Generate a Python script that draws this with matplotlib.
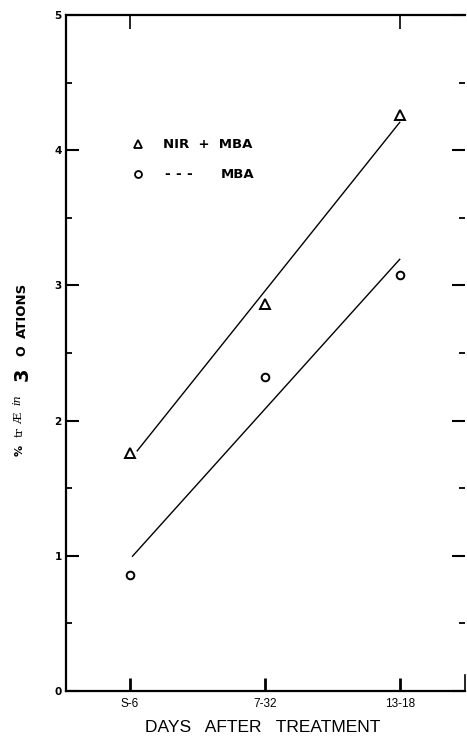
import numpy as np
import matplotlib
matplotlib.use("Agg")
import matplotlib.pyplot as plt
from matplotlib.ticker import MultipleLocator, FixedLocator

# Data
categories = ["S-6", "7-32", "13-18"]
nir_mba = [1.76, 2.86, 4.26]   # NIR + MBA (triangles)
mba = [0.86, 2.32, 3.08]       # MBA alone (circles)
y_ticks = [0, 1, 2, 3, 4, 5]
y_tick_labels = ["0", "1", "2", "3", "4", "5"]

W, H = 467, 737
fig = plt.figure(figsize=(W / 100, H / 100), dpi=100)
fig.patch.set_facecolor("white")


def fx(px):
    return px / W


def fy(py):
    return 1 - py / H


ax = fig.add_axes([fx(66), fy(691), (465 - 66) / W, (691 - 15) / H])
x = np.arange(len(categories))

ax.set_xlim(-0.474, 2.48)
ax.set_ylim(0, 5)

# Least-squares lines through each series
for series, x0 in ((nir_mba, 0.05), (mba, 0.015)):
    slope, icpt = np.polyfit(x, series, 1)
    xs = np.array([x0, 2.0])
    ax.plot(xs, icpt + slope * xs, color="black", lw=1.0, solid_capstyle="butt")

ax.plot(x, nir_mba, linestyle="none", marker="^", ms=6.5, mfc="white",
        mec="black", mew=1.4, zorder=3)
ax.plot(x, mba, linestyle="none", marker="o", ms=5.5, mfc="white",
        mec="black", mew=1.4, zorder=3)

# Spines
for side in ("left", "bottom", "top"):
    ax.spines[side].set_linewidth(1.6)
ax.spines["right"].set_linewidth(1.2)
ax.spines["right"].set_bounds(0, 0.12)

# Ticks
ax.set_xticks(x)
ax.set_xticklabels(categories, fontfamily="Liberation Sans", fontsize=8.5)
ax.set_yticks(y_ticks)
ax.set_yticklabels(y_tick_labels, fontweight="bold", fontsize=7.5)
ax.yaxis.set_minor_locator(MultipleLocator(0.5))
ax.tick_params(axis="y", which="major", direction="in", length=9.5, width=1.5,
               pad=3, right=True)
ax.tick_params(axis="y", which="minor", direction="in", length=4.5, width=1.3,
               right=True)
ax.tick_params(axis="x", which="major", direction="in", length=9.5, width=2.0,
               pad=5, top=False)

# Inward ticks along the top edge
top = ax.secondary_xaxis("top")
top.xaxis.set_major_locator(FixedLocator([0, 2]))
top.tick_params(direction="in", length=10, width=1.2, labeltop=False)
top.spines["top"].set_visible(False)

# Legend
ax.plot([fx(138)], [fy(144)], marker="^", ms=6, mfc="white", mec="black",
        mew=1.3, linestyle="none", transform=fig.transFigure, clip_on=False)
ax.plot([fx(138)], [fy(174)], marker="o", ms=5, mfc="white", mec="black",
        mew=1.3, linestyle="none", transform=fig.transFigure, clip_on=False)
fig.text(fx(163), fy(144), "NIR  +  MBA", fontsize=9.5, fontweight="bold",
         va="center", ha="left")
for px in (167, 178, 189):
    fig.text(fx(px), fy(174), "-", fontsize=10, fontweight="bold",
             va="center", ha="center")
fig.text(fx(221), fy(174), "MBA", fontsize=9.5, fontweight="bold",
         va="center", ha="left")

# Axis titles
fig.text(fx(263), fy(727), "DAYS   AFTER   TREATMENT",
         fontfamily="Liberation Sans", fontsize=12.5, ha="center", va="center")

ylab = [
    ("%", 450, 20, dict(fontsize=8, fontweight="bold")),
    ("tr", 432, 20, dict(fontsize=8, fontfamily="DejaVu Serif")),
    ("Æ", 418, 19, dict(fontsize=8, fontfamily="DejaVu Serif")),
    ("in", 400, 17, dict(fontsize=8, fontfamily="DejaVu Serif", style="italic")),
    ("3", 374, 22, dict(fontsize=14, fontweight="bold")),
    ("O", 351, 22, dict(fontsize=9, fontweight="bold")),
    ("ATIONS", 310, 22, dict(fontsize=9.5, fontweight="bold")),
]
for txt, py, px, kw in ylab:
    fig.text(fx(px), fy(py), txt, rotation=90, ha="center", va="center", **kw)

fig.savefig("out.png", dpi=100, facecolor="white")
